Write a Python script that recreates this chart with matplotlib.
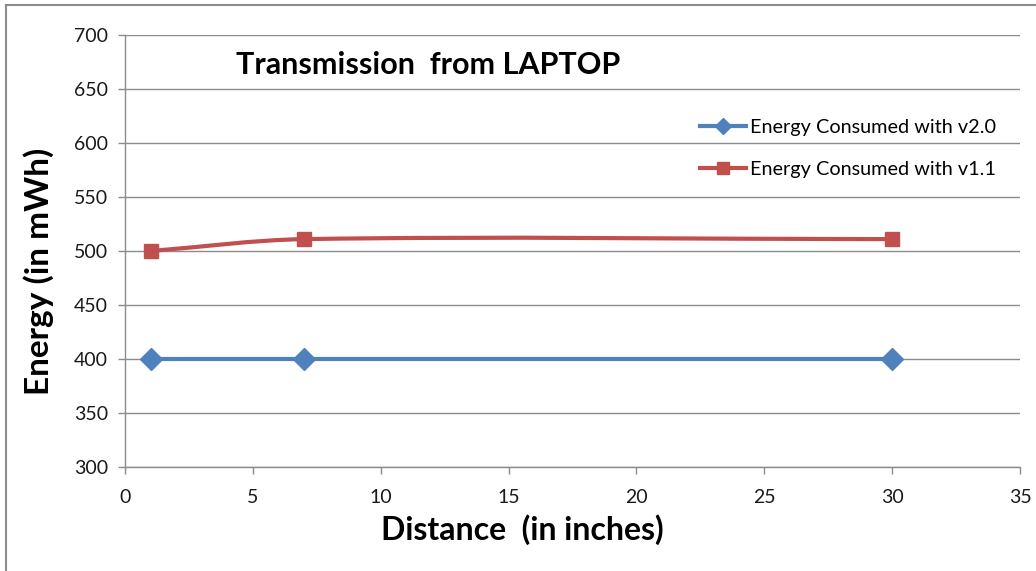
import matplotlib
matplotlib.use("Agg")
import matplotlib.pyplot as plt
from matplotlib.path import Path
from matplotlib.patches import PathPatch
from matplotlib.lines import Line2D

distance = [1, 7, 30]
energy_v20 = [400, 400, 400]
energy_v11 = [500, 511, 511]
labels = ["Energy Consumed with v2.0", "Energy Consumed with v1.1"]

C_BLUE = "#4F81BD"
C_RED = "#C0504D"
C_GRID = "#8C8C8C"

plt.rcParams.update({"font.family": ["Lato", "DejaVu Sans"], "font.size": 14})


def smooth_path(xs, ys):
    # smoothed line like Excel's: cubic bezier through each point,
    # tangent from the neighbours, scaled to the segment width
    n = len(xs)
    verts = [(xs[0], ys[0])]
    codes = [Path.MOVETO]

    def tangent(i):
        a, b = max(i - 1, 0), min(i + 1, n - 1)
        return xs[b] - xs[a], ys[b] - ys[a]

    for i in range(n - 1):
        w = xs[i + 1] - xs[i]
        tx0, ty0 = tangent(i)
        tx1, ty1 = tangent(i + 1)
        k0 = w / tx0 / 3
        k1 = w / tx1 / 3
        verts += [(xs[i] + tx0 * k0, ys[i] + ty0 * k0),
                  (xs[i + 1] - tx1 * k1, ys[i + 1] - ty1 * k1),
                  (xs[i + 1], ys[i + 1])]
        codes += [Path.CURVE4] * 3
    return Path(verts, codes)


fig = plt.figure(figsize=(10.36, 5.71), dpi=100, facecolor="white")
ax = fig.add_axes([0.1206, 0.1821, 0.8640, 0.7566])

ax.plot(distance, energy_v20, color=C_BLUE, lw=3, marker="D", ms=11,
        zorder=3, solid_capstyle="butt")
ax.add_patch(PathPatch(smooth_path(distance, energy_v11), facecolor="none",
                       edgecolor=C_RED, lw=3, zorder=3))
ax.plot(distance, energy_v11, ls="none", color=C_RED, marker="s", ms=10.5, zorder=4)

ax.set_xlim(0, 35)
ax.set_ylim(300, 700)
ax.set_xticks(range(0, 36, 5))
ax.set_yticks(range(300, 701, 50))
ax.grid(axis="y", color=C_GRID, lw=1)
ax.set_axisbelow(True)
for side in ["top", "right"]:
    ax.spines[side].set_visible(False)
for side in ["left", "bottom"]:
    ax.spines[side].set_color(C_GRID)
    ax.spines[side].set_linewidth(1)
ax.tick_params(colors=C_GRID, length=5, width=1, labelcolor="#1a1a1a", labelsize=14)
ax.tick_params(axis="x", pad=11)
ax.tick_params(axis="y", pad=7)

ax.set_xlabel("Distance  (in inches)", fontsize=23, fontweight="bold")
ax.xaxis.label.set_va("center")
ax.xaxis.set_label_coords(0.4436, -0.146)
ax.set_ylabel("Energy (in mWh)", fontsize=24, fontweight="bold")
ax.yaxis.label.set_va("center")
ax.yaxis.set_label_coords(-0.097, 0.454)
ax.text(0.3385, 0.9306, "Transmission  from LAPTOP", transform=ax.transAxes,
        ha="center", va="center", fontsize=22, fontweight="bold")

handles = [
    Line2D([], [], color=C_BLUE, lw=3, marker="D", ms=8),
    Line2D([], [], color=C_RED, lw=3, marker="s", ms=8),
]
ax.legend(handles, labels, loc="upper left", bbox_to_anchor=(0.623, 0.846),
          frameon=False, handlelength=2.27, handletextpad=0.2, labelspacing=1.25,
          fontsize=14.3)

# chart border (only left and top edges are inside the picture)
fig.add_artist(Line2D([0.006, 0.006], [0.0, 0.991], transform=fig.transFigure,
                      color=C_GRID, lw=1.5))
fig.add_artist(Line2D([0.006, 1.0], [0.991, 0.991], transform=fig.transFigure,
                      color=C_GRID, lw=1.5))

fig.savefig("out.png", dpi=100, facecolor="white")
